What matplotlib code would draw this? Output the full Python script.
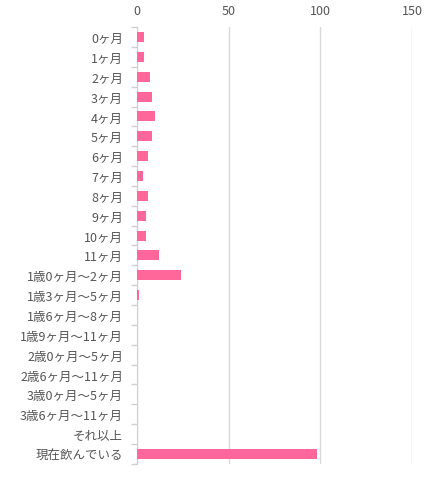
import matplotlib
matplotlib.use("Agg")
import matplotlib.pyplot as plt
import numpy as np

plt.rcParams['font.family'] = ['Noto Sans CJK JP', 'DejaVu Sans']

labels = ["0ヶ月", "1ヶ月", "2ヶ月", "3ヶ月", "4ヶ月", "5ヶ月", "6ヶ月", "7ヶ月",
          "8ヶ月", "9ヶ月", "10ヶ月", "11ヶ月", "1歳0ヶ月〜2ヶ月", "1歳3ヶ月〜5ヶ月",
          "1歳6ヶ月〜8ヶ月", "1歳9ヶ月〜11ヶ月", "2歳0ヶ月〜5ヶ月", "2歳6ヶ月〜11ヶ月",
          "3歳0ヶ月〜5ヶ月", "3歳6ヶ月〜11ヶ月", "それ以上", "現在飲んでいる"]
values = [4, 4, 7, 8, 10, 8, 6, 3, 6, 5, 5, 12, 24, 1, 0, 0, 0, 0, 0, 0, 0, 98]
xticks = [0, 50, 100, 150]

fig = plt.figure(figsize=(4.35, 5.02), dpi=100)
ax = fig.add_axes([0.315, 0.074, 0.632, 0.870])

y = np.arange(len(labels))
ax.barh(y, values, height=0.5, color="#ff6699", zorder=3)

ax.set_xlim(0, 150)
ax.set_ylim(len(labels) - 0.5, -0.5)
ax.set_xticks(xticks)
ax.xaxis.tick_top()
ax.tick_params(axis="x", length=0, labelsize=9, labelcolor="#555555", pad=7)
ax.set_yticks(y)
ax.set_yticklabels(labels)
ax.tick_params(axis="y", which="major", length=0, labelsize=9, labelcolor="#555555", pad=10)
ax.set_yticks(np.arange(len(labels) + 1) - 0.5, minor=True)
ax.tick_params(axis="y", which="minor", length=4, color="#d0d0d0", width=1)

ax.grid(axis="x", color="#d9d9d9", linewidth=1, zorder=0)
for s in ["top", "right", "bottom"]:
    ax.spines[s].set_visible(False)
ax.spines["left"].set_color("#d0d0d0")

fig.savefig("out.png", dpi=100)
